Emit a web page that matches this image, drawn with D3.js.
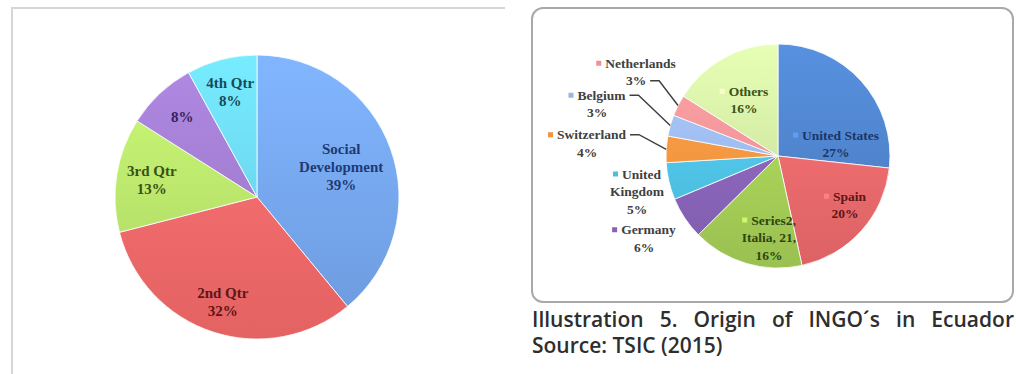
<!DOCTYPE html>
<html>
<head>
<meta charset="utf-8">
<script src="https://cdn.jsdelivr.net/npm/d3@7"></script>
<style>
  html, body { margin: 0; padding: 0; background: #fff; }
  svg { display: block; }
</style>
</head>
<body>
<svg id="chart" width="1016" height="374"></svg>
<script>
// ---- Left pie: share by area ----
const leftCategories = ["Social Development", "2nd Qtr", "3rd Qtr", "", "4th Qtr"];
const leftValues = [39, 32, 13, 8, 8];
const leftColors = ["#72a1e9", "#ef6767", "#b4de68", "#9c79c9", "#69d0ed"];
const leftTextColors = ["#1f3a72", "#5e1616", "#3b5015", "#38215a", "#174a58"];

// ---- Right pie: origin of INGOs (number of organisations) ----
const seriesName = "Series2";
const countries = ["United States", "Spain", "Italia", "Germany", "United Kingdom",
                   "Switzerland", "Belgium", "Netherlands", "Others"];
const countryCounts = [35, 26, 21, 8, 7, 5, 4, 4, 21];
const countryColors = ["#4d80c6", "#e7676a", "#a2cb55", "#8662b5", "#4dbedf",
                       "#f6923f", "#99b5eb", "#f09194", "#cce39f"];

// ---- Caption ----
const captionLines = ["Illustration 5. Origin of INGO´s in Ecuador", "Source: TSIC (2015)"];

const svg = d3.select("#chart");
const defs = svg.append("defs");
const pct = d3.format(".0%");

// Frames
svg.append("path")
  .attr("d", "M12,374 L12,8 L505,8")
  .attr("fill", "none").attr("stroke", "#d6d6d6").attr("stroke-width", 2);
svg.append("rect")
  .attr("x", 532).attr("y", 8).attr("width", 481).attr("height", 294)
  .attr("rx", 11).attr("ry", 11)
  .attr("fill", "#fff").attr("stroke", "#a9a9a9").attr("stroke-width", 2);

// Shaded slice fill: lighter at the top of the pie, base colour toward the bottom
function sliceGradient(id, color, cy, r) {
  const g = defs.append("linearGradient").attr("id", id)
    .attr("gradientUnits", "userSpaceOnUse")
    .attr("x1", 0).attr("y1", cy - r).attr("x2", 0).attr("y2", cy + r);
  g.append("stop").attr("offset", 0).attr("stop-color", d3.color(color).brighter(0.35));
  g.append("stop").attr("offset", 1).attr("stop-color", d3.color(color).darker(0.15));
  return `url(#${id})`;
}

const pie = d3.pie().sort(null).value(d => d.value);

// ================= Left pie =================
{
  const cx = 257, cy = 197, r = 142;
  const data = leftValues.map((v, i) => ({ name: leftCategories[i], value: v, i }));
  const total = d3.sum(leftValues);
  const arcs = pie(data);
  const arc = d3.arc().innerRadius(0).outerRadius(r);
  const labelRadius = [0.63, 0.78, 0.75, 0.77, 0.76];
  // long category names wrap onto one word per line
  const wrap = name => !name ? [] : (name.length > 10 ? name.split(" ") : [name]);

  const g = svg.append("g").attr("transform", `translate(${cx},${cy})`);
  g.selectAll("path").data(arcs).join("path")
    .attr("d", arc)
    .attr("fill", d => sliceGradient("lg" + d.data.i, leftColors[d.data.i], 0, r))
    .attr("stroke", "#ffffff").attr("stroke-width", 0.8);

  const lh = 18;
  arcs.forEach(d => {
    const a = (d.startAngle + d.endAngle) / 2;
    const rr = r * labelRadius[d.data.i];
    const x = Math.sin(a) * rr, y = -Math.cos(a) * rr;
    const lines = wrap(d.data.name).concat([pct(d.data.value / total)]);
    const t = g.append("text")
      .attr("text-anchor", "middle")
      .attr("font-family", "'Liberation Serif', serif")
      .attr("font-weight", "bold").attr("font-size", 15)
      .attr("fill", leftTextColors[d.data.i]);
    lines.forEach((s, k) => {
      t.append("tspan").attr("x", x)
        .attr("y", y + (k - (lines.length - 1) / 2) * lh + 5)
        .text(s);
    });
  });
}

// ================= Right pie =================
{
  const cx = 778, cy = 156, r = 112;
  const data = countryCounts.map((v, i) => ({ name: countries[i], value: v, i }));
  const total = d3.sum(countryCounts);
  const arcs = pie(data);
  const arc = d3.arc().innerRadius(0).outerRadius(r);

  // label block centre (offset from pie centre), line breaks and leader attachment
  const labelLayout = [
    { dx: 58,  dy: -12,   lines: d => [d.name, pct(d.value / total)] },
    { dx: 67,  dy: 49,    lines: d => [d.name, pct(d.value / total)] },
    { dx: -9,  dy: 81.5,  lines: d => [seriesName + ",", `${d.name}, ${d.value},`, pct(d.value / total)] },
    { dx: -134, dy: 82.5, lines: d => [d.name, pct(d.value / total)] },
    { dx: -141, dy: 35.5, lines: d => ["United", "Kingdom", pct(d.value / total)] },
    { dx: -191, dy: -12.5, lines: d => [d.name, pct(d.value / total)], leader: 0 },
    { dx: -181, dy: -52,  lines: d => [d.name, pct(d.value / total)], leader: 0 },
    { dx: -142, dy: -84,  lines: d => [d.name, pct(d.value / total)], leader: 1 },
    { dx: -34, dy: -56,   lines: d => [d.name, pct(d.value / total)] }
  ];
  const inside = [true, true, true, false, false, false, false, false, true];
  const textColors = ["#1c3566", "#5a1717", "#2f4510", "#404040", "#404040",
                      "#404040", "#404040", "#404040", "#3c5218"];

  const g = svg.append("g").attr("transform", `translate(${cx},${cy})`);
  g.selectAll("path").data(arcs).join("path")
    .attr("d", arc)
    .attr("fill", d => sliceGradient("rg" + d.data.i, countryColors[d.data.i], 0, r))
    .attr("stroke", "#ffffff").attr("stroke-width", 0.8);

  const lh = 17.5, fs = 13.5;
  const gl = g.append("g");
  arcs.forEach(d => {
    const L = labelLayout[d.data.i];
    const lines = L.lines(d.data);
    const fill = textColors[d.data.i];
    const lineY = k => L.dy + (k - (lines.length - 1) / 2) * lh;
    const ends = [];
    lines.forEach((s, k) => {
      const t = gl.append("text")
        .attr("font-family", "'Liberation Serif', serif")
        .attr("font-weight", "bold").attr("font-size", fs)
        .attr("fill", fill)
        .attr("y", lineY(k) + 4.5)
        .text(s);
      const w = t.node().getComputedTextLength();
      if (k === 0) {
        // legend key sits in front of the first line; the pair is centred
        const key = 5, gap = 4;
        const x0 = L.dx - (key + gap + w) / 2;
        gl.append("rect")
          .attr("x", x0).attr("y", lineY(k) - key / 2)
          .attr("width", key).attr("height", key)
          .attr("fill", inside[d.data.i]
            ? d3.color(countryColors[d.data.i]).brighter(0.6)
            : countryColors[d.data.i]);
        t.attr("x", x0 + key + gap);
        ends.push(x0 + key + gap + w);
      } else {
        t.attr("x", L.dx - w / 2);
        ends.push(L.dx + w / 2);
      }
    });
    if (L.leader !== undefined) {
      const a = (d.startAngle + d.endAngle) / 2;
      const sx = ends[L.leader] + 4, sy = lineY(L.leader);
      const px = Math.sin(a) * r, py = -Math.cos(a) * r;
      gl.append("path")
        .attr("d", `M${sx},${sy} L${sx + 9},${sy} L${px},${py}`)
        .attr("fill", "none").attr("stroke", "#3f3f3f").attr("stroke-width", 1.4);
    }
  });
}

// ================= Caption (justified first line) =================
{
  const x0 = 532, right = 1014, base = [327, 353];
  const font = { family: "'Open Sans', sans-serif", weight: 600, size: 21 };
  const words = captionLines[0].split(" ");
  const widths = words.map(w => {
    const t = svg.append("text")
      .attr("font-family", font.family).attr("font-weight", font.weight)
      .attr("font-size", font.size).text(w);
    const len = t.node().getComputedTextLength();
    t.remove();
    return len;
  });
  const gap = (right - x0 - d3.sum(widths)) / (words.length - 1);
  let x = x0;
  words.forEach((w, i) => {
    svg.append("text")
      .attr("x", x).attr("y", base[0])
      .attr("font-family", font.family).attr("font-weight", font.weight)
      .attr("font-size", font.size).attr("fill", "#2e2e2e")
      .text(w);
    x += widths[i] + gap;
  });
  svg.append("text")
    .attr("x", x0).attr("y", base[1])
    .attr("font-family", font.family).attr("font-weight", font.weight)
    .attr("font-size", font.size).attr("fill", "#2e2e2e")
    .text(captionLines[1]);
}
</script>
</body>
</html>
